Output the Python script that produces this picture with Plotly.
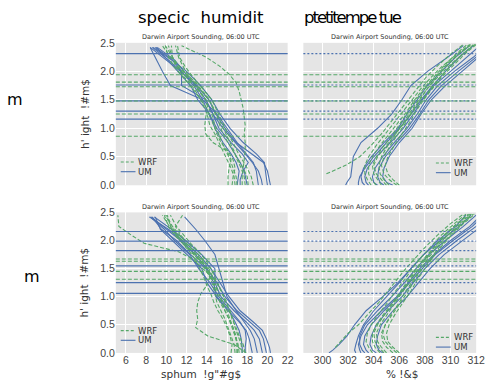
import plotly.graph_objects as go

# ---------------------------------------------------------------- data
# height levels (km) of the model profiles
H_Q_WRF = [0.0, 0.15, 0.3, 0.45, 0.6, 0.75, 0.9, 1.05, 1.2, 1.35, 1.5, 1.65, 1.8, 1.95, 2.1, 2.25, 2.45]
H_Q_UM = [0.0, 0.1, 0.25, 0.4, 0.55, 0.75, 1.0, 1.25, 1.5, 1.75, 2.0, 2.2, 2.42]
H_T_WRF = [0.0, 0.1, 0.2, 0.35, 0.5, 0.7, 0.9, 1.1, 1.3, 1.5, 1.7, 1.9, 2.1, 2.3, 2.47]
H_T_UM = [0.0, 0.05, 0.15, 0.3, 0.5, 0.75, 1.0, 1.25, 1.5, 1.75, 2.0, 2.25, 2.45]

# specific humidity (g/kg), first run
Q_WRF_A = [
    [16.1, 16.1, 16.2, 16.4, 16.0, 14.6, 13.9, 13.8, 13.9, 14.1, 13.9, 13.3, 12.6, 11.9, 11.2, 10.6, 9.9],
    [17.5, 17.5, 17.6, 17.7, 17.8, 17.8, 17.7, 17.8, 17.7, 17.6, 17.4, 17.2, 16.9, 16.2, 15.2, 13.9, 11.5],
    [18.1, 18.0, 17.6, 17.1, 16.6, 16.1, 15.6, 15.3, 15.0, 14.6, 14.3, 13.6, 12.9, 12.0, 11.2, 10.4, 9.6],
    [17.0, 16.9, 16.6, 16.3, 15.9, 15.5, 15.2, 14.8, 14.6, 14.2, 13.9, 13.2, 12.5, 11.8, 11.0, 10.6, 10.2],
    [16.5, 16.6, 16.8, 16.6, 16.1, 15.4, 15.0, 14.7, 14.3, 14.0, 13.4, 12.9, 12.3, 11.5, 10.9, 10.6, 10.5],
    [17.8, 17.7, 17.4, 17.0, 16.7, 16.3, 15.9, 15.5, 15.1, 14.7, 14.2, 13.5, 12.8, 12.1, 11.6, 11.2, 10.9],
    [16.8, 16.7, 16.4, 16.0, 15.6, 15.2, 14.8, 14.3, 14.1, 13.8, 13.4, 12.8, 12.1, 11.4, 10.7, 10.2, 9.9],
    [18.6, 18.4, 18.0, 17.5, 17.0, 16.6, 16.1, 15.7, 15.3, 14.9, 14.5, 13.8, 13.1, 12.4, 11.8, 11.3, 11.1],
]
Q_UM_A = [
    [20.3, 20.2, 20.0, 19.6, 18.4, 16.9, 15.8, 14.9, 14.2, 13.0, 11.4, 10.0, 8.4],
    [20.0, 19.9, 19.8, 19.7, 18.9, 17.6, 16.3, 15.3, 14.5, 13.4, 12.0, 10.5, 8.7],
    [19.1, 19.0, 18.9, 18.6, 17.9, 17.0, 16.0, 15.0, 13.6, 12.7, 11.5, 10.2, 8.6],
    [17.3, 17.3, 17.6, 18.1, 17.5, 16.4, 15.2, 14.6, 13.9, 11.5, 11.5, 10.6, 8.9],
    [18.0, 17.9, 17.7, 17.3, 16.8, 16.1, 15.0, 14.2, 13.6, 10.4, 9.6, 9.0, 8.4],
    [19.5, 19.4, 19.1, 18.5, 17.8, 16.8, 15.6, 14.6, 13.9, 12.9, 11.7, 10.8, 9.1],
    [17.0, 17.1, 17.2, 16.9, 16.4, 15.6, 14.8, 14.3, 13.1, 12.4, 11.1, 10.1, 9.0],
]

# potential temperature (K), first run
T_WRF_A = [
    [None, None, 300.3, 301.8, 302.9, 303.8, 304.6, 305.3, 306.0, 306.7, 307.4, 308.1, 309.0, 310.0, 311.0],
    [305.8, 305.2, 304.8, 304.6, 304.8, 305.3, 305.9, 306.5, 307.0, 307.6, 308.2, 308.9, 309.7, 310.6, 311.6],
    [304.2, 303.8, 303.6, 303.6, 303.9, 304.5, 305.2, 305.9, 306.6, 307.2, 307.9, 308.7, 309.5, 310.4, 311.3],
    [305.2, 304.8, 304.5, 304.4, 304.6, 305.1, 305.7, 306.3, 306.9, 307.5, 308.2, 309.0, 309.9, 310.9, 311.8],
    [303.8, 303.5, 303.3, 303.3, 303.6, 304.2, 304.9, 305.6, 306.3, 307.0, 307.7, 308.5, 309.4, 310.5, 311.5],
    [306.0, 305.5, 305.1, 304.9, 305.1, 305.6, 306.2, 306.8, 307.3, 307.9, 308.6, 309.3, 310.2, 311.1, 312.0],
    [304.6, 304.3, 304.0, 303.9, 304.2, 304.8, 305.5, 306.1, 306.7, 307.3, 308.0, 308.8, 309.6, 310.6, 311.6],
    [305.0, 304.6, 304.2, 304.0, 304.3, 305.0, 305.7, 306.4, 307.1, 307.8, 308.5, 309.2, 310.0, 310.9, 311.9],
]
T_UM_A = [
    [301.8, 301.9, 302.2, 302.3, 302.4, 303.0, 304.3, 305.4, 306.2, 306.9, 308.2, 309.8, 311.0],
    [303.3, 303.1, 303.0, 303.2, 303.8, 304.8, 305.9, 306.6, 307.4, 308.2, 309.3, 310.4, 311.5],
    [303.6, 303.4, 303.3, 303.5, 304.2, 305.3, 306.3, 307.1, 307.8, 308.7, 310.0, 311.3, 312.3],
    [305.5, 305.0, 304.7, 304.8, 305.2, 306.0, 307.0, 307.7, 308.5, 309.6, 310.9, 312.2, 313.0],
    [304.3, 304.0, 303.9, 304.1, 304.7, 305.6, 306.6, 307.4, 308.1, 309.0, 310.3, 311.8, 312.8],
    [302.8, 302.8, 302.9, 303.3, 304.0, 305.0, 306.0, 306.9, 307.7, 308.6, 309.6, 310.7, 311.8],
    [304.8, 304.5, 304.3, 304.4, 304.9, 305.8, 306.8, 307.6, 308.3, 309.3, 310.6, 312.0, 312.9],
]

# specific humidity (g/kg), second run
Q_WRF_B = [
    [17.0, 17.0, 16.8, 16.6, 16.2, 15.8, 15.5, 15.2, 14.8, 14.5, 13.6, 12.8, 11.2, 7.8, 6.5, 5.3, 5.2],
    [17.9, 16.7, 14.1, 12.9, 13.1, 13.0, 13.1, 13.4, 14.0, 14.3, 14.0, 13.3, 12.4, 11.6, 10.8, 10.2, 9.8],
    [17.0, 17.0, 16.9, 16.6, 16.3, 16.0, 15.6, 15.2, 14.9, 14.5, 14.1, 13.5, 12.7, 12.0, 11.3, 10.6, 10.0],
    [17.5, 17.4, 17.1, 16.8, 16.6, 16.2, 16.0, 15.5, 15.2, 14.8, 14.4, 13.9, 13.2, 12.4, 11.7, 11.0, 10.4],
    [16.8, 16.7, 16.4, 16.1, 15.8, 15.4, 15.0, 14.8, 14.6, 14.3, 13.8, 13.2, 12.5, 11.8, 11.1, 10.5, 9.9],
    [17.8, 17.6, 17.2, 16.9, 16.5, 16.3, 15.8, 15.6, 15.1, 14.6, 14.2, 13.6, 12.9, 12.1, 11.4, 10.9, 11.6],
    [16.4, 16.5, 16.3, 16.0, 15.6, 15.1, 14.7, 14.4, 14.0, 13.7, 13.3, 12.9, 12.3, 11.6, 11.0, 10.3, 9.6],
    [17.2, 17.1, 16.8, 16.5, 16.2, 15.8, 15.3, 15.0, 14.7, 14.4, 14.0, 13.3, 12.6, 11.8, 11.0, 10.4, 10.1],
]
Q_UM_B = [
    [20.3, 20.2, 19.9, 19.5, 18.6, 17.3, 16.2, 15.3, 14.4, 13.2, 11.6, 10.2, 8.3],
    [19.9, 19.8, 19.6, 19.2, 18.3, 17.0, 15.8, 15.0, 14.0, 12.9, 11.4, 10.0, 8.5],
    [19.5, 19.4, 19.2, 18.7, 17.9, 16.7, 15.4, 14.8, 14.8, 13.5, 11.9, 10.5, 8.8],
    [17.8, 17.8, 17.9, 17.8, 17.3, 16.4, 15.2, 14.3, 13.2, 12.3, 10.8, 9.8, 8.4],
    [18.5, 18.4, 18.2, 17.9, 17.2, 16.1, 14.9, 14.7, 13.9, 12.4, 11.0, 9.5, 8.6],
    [19.0, 18.9, 18.7, 18.3, 17.7, 16.9, 16.0, 15.6, 15.2, 14.8, 13.8, 12.9, 11.8],
    [17.5, 17.5, 17.4, 17.2, 16.8, 16.2, 15.0, 14.0, 13.5, 12.0, 10.6, 9.4, 8.9],
]

# potential temperature (K), second run
T_WRF_B = [
    [None, 301.0, 301.4, 302.0, 302.8, 303.6, 304.4, 305.1, 305.8, 306.5, 307.3, 308.1, 309.0, 310.0, 311.0],
    [305.5, 305.0, 304.7, 304.6, 304.9, 305.4, 306.0, 306.5, 307.1, 307.7, 308.3, 309.0, 309.8, 310.8, 311.7],
    [304.5, 304.1, 303.9, 303.9, 304.2, 304.8, 305.5, 306.1, 306.7, 307.3, 308.0, 308.8, 309.6, 310.5, 311.4],
    [306.0, 305.5, 305.1, 305.0, 305.2, 305.7, 306.3, 306.9, 307.4, 308.0, 308.6, 309.3, 310.1, 311.0, 311.9],
    [303.9, 303.6, 303.4, 303.5, 303.8, 304.4, 305.1, 305.7, 306.4, 307.0, 307.7, 308.5, 309.3, 310.3, 311.2],
    [305.0, 304.6, 304.3, 304.2, 304.5, 305.1, 305.7, 306.3, 306.9, 307.5, 308.2, 308.9, 309.8, 310.7, 311.6],
    [305.8, 305.3, 304.9, 304.7, 304.9, 305.5, 306.1, 306.7, 307.2, 307.8, 308.5, 309.2, 310.0, 310.9, 311.8],
    [304.8, 304.4, 304.1, 304.0, 304.3, 304.9, 305.6, 306.2, 306.8, 307.4, 308.1, 308.8, 309.5, 310.5, 311.5],
]
T_UM_B = [
    [300.5, 300.8, 301.3, 301.9, 302.5, 303.4, 304.7, 305.9, 306.9, 307.9, 309.0, 310.4, 311.2],
    [303.3, 303.1, 302.9, 302.9, 303.3, 304.3, 305.4, 306.4, 307.3, 308.3, 309.6, 311.0, 312.0],
    [303.0, 302.9, 302.8, 303.0, 303.5, 304.6, 305.8, 306.7, 307.6, 308.7, 310.0, 311.5, 312.4],
    [304.2, 303.9, 303.7, 303.8, 304.2, 305.1, 306.2, 307.1, 308.0, 309.1, 310.5, 312.0, 313.0],
    [303.6, 303.4, 303.2, 303.3, 303.8, 304.8, 305.9, 306.8, 307.8, 308.8, 310.2, 311.7, 312.6],
    [304.7, 304.4, 304.2, 304.3, 304.6, 305.5, 306.6, 307.5, 308.4, 309.5, 311.0, 312.4, 313.2],
    [302.6, 302.5, 302.6, 302.8, 303.2, 304.0, 305.0, 306.0, 306.9, 307.9, 309.2, 310.7, 311.6],
]

# diagnosed layer heights (km)
HL_UM_A = [2.31, 1.76, 1.48, 1.30, 1.16]
HL_WRF_A = [1.94, 1.81, 1.73, 1.48, 1.25, 0.86]
HL_UM_B = [2.16, 1.99, 1.82, 1.55, 1.25, 1.06]
HL_WRF_B = [1.67, 1.63, 1.45, 1.31]

Q_TICKS = [6, 8, 10, 12, 14, 16, 18, 20, 22]
T_TICKS = [300, 302, 304, 306, 308, 310, 312]
H_TICKS = [0.0, 0.5, 1.0, 1.5, 2.0, 2.5]

SUBTITLE = "Darwin Airport Sounding, 06:00 UTC"

# ---------------------------------------------------------------- style
W, H = 493, 387
UM_C = "#4c72b0"
WRF_C = "#55a868"
BG = "#e5e5e5"
TICK_FONT = dict(family="Liberation Sans, Arial, sans-serif", size=10.5, color="#444444")
TXT = "DejaVu Sans, sans-serif"


def px(x):
    return x / W


def py(y):
    return 1 - y / H


XDOM_L = [px(118), px(293)]
XDOM_R = [px(309), px(485)]
YDOM_T = [py(185), py(38)]
YDOM_B = [py(358), py(213)]

fig = go.Figure()

panels = [
    # (xaxis, yaxis, wrf data, wrf heights, um data, um heights)
    ("x", "y", Q_WRF_A, H_Q_WRF, Q_UM_A, H_Q_UM),
    ("x2", "y2", T_WRF_A, H_T_WRF, T_UM_A, H_T_UM),
    ("x3", "y3", Q_WRF_B, H_Q_WRF, Q_UM_B, H_Q_UM),
    ("x4", "y4", T_WRF_B, H_T_WRF, T_UM_B, H_T_UM),
]

for xa, ya, wrf, hw, um, hu in panels:
    for prof in um:
        fig.add_trace(go.Scatter(x=prof, y=hu, xaxis=xa, yaxis=ya, mode="lines",
                                 line=dict(color=UM_C, width=1.1), showlegend=False,
                                 hoverinfo="skip"))
    for prof in wrf:
        fig.add_trace(go.Scatter(x=prof, y=hw, xaxis=xa, yaxis=ya, mode="lines",
                                 line=dict(color=WRF_C, width=1.1, dash="4px,2px"),
                                 showlegend=False, hoverinfo="skip"))

# horizontal layer-height markers spanning each panel
shapes = []
for xa, ya, um_h, wrf_h, dotted in [
    ("x", "y", HL_UM_A, HL_WRF_A, False),
    ("x2", "y2", HL_UM_A, HL_WRF_A, True),
    ("x3", "y3", HL_UM_B, HL_WRF_B, False),
    ("x4", "y4", HL_UM_B, HL_WRF_B, True),
]:
    for h in um_h:
        shapes.append(dict(type="line", xref=f"{xa} domain", yref=ya, x0=0, x1=1, y0=h, y1=h,
                           line=dict(color=UM_C, width=1.2,
                                     dash="2px,2px" if dotted else "solid")))
    for h in wrf_h:
        shapes.append(dict(type="line", xref=f"{xa} domain", yref=ya, x0=0, x1=1, y0=h, y1=h,
                           line=dict(color=WRF_C, width=1.1, dash="4px,2px")))

# small in-panel legends
annotations = []
LEG_GAP = 10
for lx, ly in [(123, 161), (444, 162), (123, 335), (444, 342)]:
    shapes.append(dict(type="line", xref="paper", yref="paper", x0=px(lx), x1=px(lx + 15),
                       y0=py(ly), y1=py(ly), line=dict(color=WRF_C, width=1.1, dash="3px,2px")))
    shapes.append(dict(type="line", xref="paper", yref="paper", x0=px(lx), x1=px(lx + 15),
                       y0=py(ly + LEG_GAP), y1=py(ly + LEG_GAP), line=dict(color=UM_C, width=1.1)))
    for name, dy in [("WRF", 0), ("UM", LEG_GAP)]:
        annotations.append(dict(text=name, xref="paper", yref="paper", x=px(lx + 17),
                                y=py(ly + dy), xanchor="left", yanchor="middle", showarrow=False,
                                borderpad=0,
                                font=dict(family=TXT, size=8.5, color="#333333")))

# titles, subtitles and axis labels
for text, x, y, size, color in [
    ("specic  humidit", 205, 12, 16.5, "#000000"),
    ('<span style="letter-spacing:-2px">ptetitempe tue</span>', 360, 12, 16.5, "#000000"),
    (SUBTITLE, 205, 32, 6.5, "#333333"),
    (SUBTITLE, 397, 32, 6.5, "#333333"),
    (SUBTITLE, 205, 207, 6.5, "#333333"),
    (SUBTITLE, 397, 207, 6.5, "#333333"),
    ("m", 15, 97, 16, "#000000"),
    ("m", 33, 279, 16, "#000000"),
    ("sphum  !g\"#g$", 205, 380, 10.5, "#333333"),
    ("% !&$", 409, 380, 10.5, "#333333"),
]:
    annotations.append(dict(text=text, xref="paper", yref="paper", x=px(x), y=py(y),
                            xanchor="center", yanchor="middle", showarrow=False,
                            font=dict(family=TXT, size=size, color=color)))
for y in [111, 285]:
    annotations.append(dict(text="h' ight  !#m$", xref="paper", yref="paper", x=px(86), y=py(y),
                            xanchor="center", yanchor="middle", showarrow=False, textangle=-90,
                            font=dict(family=TXT, size=10.5, color="#333333")))

common_x = dict(showgrid=True, gridcolor="white", gridwidth=1, zeroline=False, ticks="",
                showline=False, tickfont=TICK_FONT)
common_y = dict(range=[0, 2.5], tickvals=H_TICKS, tickformat=".1f", showgrid=True,
                gridcolor="white", gridwidth=1, zeroline=False, ticks="", showline=False,
                tickfont=TICK_FONT)

fig.update_layout(
    width=W, height=H, margin=dict(l=0, r=0, t=0, b=0),
    paper_bgcolor="white", plot_bgcolor=BG, showlegend=False,
    xaxis=dict(domain=XDOM_L, anchor="y", range=[5, 22], tickvals=Q_TICKS,
               showticklabels=False, **common_x),
    xaxis2=dict(domain=XDOM_R, anchor="y2", range=[298.5, 312], tickvals=T_TICKS,
                showticklabels=False, **common_x),
    xaxis3=dict(domain=XDOM_L, anchor="y3", range=[5, 22], tickvals=Q_TICKS, **common_x),
    xaxis4=dict(domain=XDOM_R, anchor="y4", range=[298.5, 312], tickvals=T_TICKS, **common_x),
    yaxis=dict(domain=YDOM_T, anchor="x", **common_y),
    yaxis2=dict(domain=YDOM_T, anchor="x2", showticklabels=False, **common_y),
    yaxis3=dict(domain=YDOM_B, anchor="x3", **common_y),
    yaxis4=dict(domain=YDOM_B, anchor="x4", showticklabels=False, **common_y),
    shapes=shapes, annotations=annotations,
)

fig.write_html("out.html")
